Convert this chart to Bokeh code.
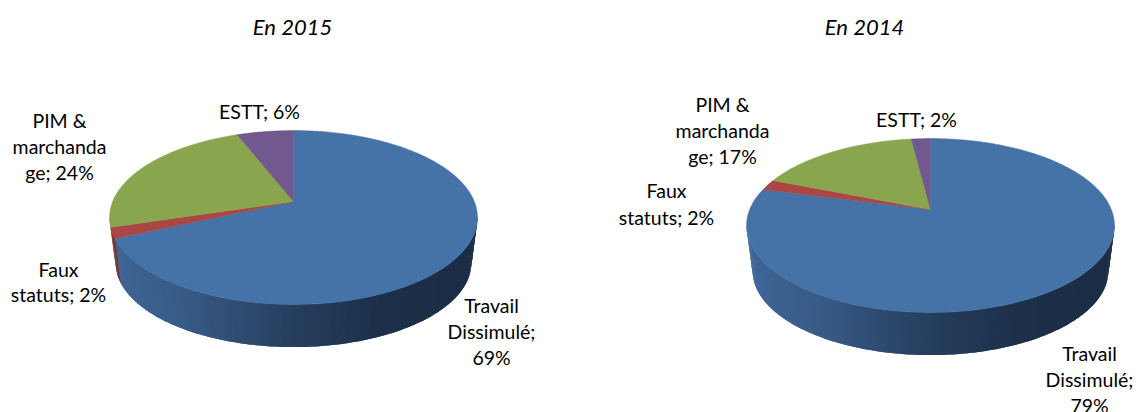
import numpy as np
from bokeh.plotting import figure
from bokeh.models import Range1d
from bokeh.core.properties import value
from bokeh.embed import file_html
from bokeh.resources import INLINE

# --- data -------------------------------------------------------------
categories = ["Travail Dissimulé", "Faux statuts", "PIM & marchandage", "ESTT"]
values_2015 = [69, 2, 24, 6]
values_2014 = [79, 2, 17, 2]
titles = ["En 2015", "En 2014"]

# --- style -------------------------------------------------------------
top_colors = ["#4572A7", "#AA4643", "#89A54E", "#71588F"]
wall_dark = ["#1f3450", "#7a302e", "#5f7536", "#4e3d64"]
FONT = "Lato"
SIZE = "19.5px"
TITLE_SIZE = "22px"

# --- layout: the perspective pie's projection --------------------------
A, B, K = 180.8, 84.0, 0.184
DROP, SHRINK = 46.0, 0.967
centers = [(293.0, 201.0), (930.0, 209.0)]
title_pos = [(292, 26), (864, 26)]
label_layout = [
    [("PIM &", 59, 120), ("marchanda", 59, 146), ("ge; 24%", 59, 172),
     ("ESTT; 6%", 259, 111),
     ("Faux", 58, 269), ("statuts; 2%", 58, 294),
     ("Travail", 491, 305), ("Dissimulé;", 491, 331), ("69%", 491, 357)],
    [("PIM &", 722, 104), ("marchanda", 722, 130), ("ge; 17%", 722, 156),
     ("ESTT; 2%", 916, 119),
     ("Faux", 666, 190), ("statuts; 2%", 666, 217),
     ("Travail", 1089, 353), ("Dissimulé;", 1089, 379), ("79%", 1089, 405)],
]

shade_t = [-1.0, -0.5, 0.0, 0.4, 1.0]
shade_rgb = np.array([[0x41, 0x68, 0x9A], [0x37, 0x5A, 0x85], [0x26, 0x3E, 0x5E],
                      [0x1C, 0x30, 0x49], [0x1B, 0x2D, 0x44]], dtype=float)


def project(theta, cx, cy, scale=1.0, drop=0.0):
    u, v = np.sin(theta), np.cos(theta)
    w = 1 + K * v
    return cx + scale * A * u / w, cy + drop - scale * B * v / w


def shade(t):
    rgb = [np.interp(t, shade_t, shade_rgb[:, i]) for i in range(3)]
    return "#%02x%02x%02x" % tuple(int(round(c)) for c in rgb)


p = figure(width=1136, height=412, output_backend="svg", toolbar_location=None,
           x_range=Range1d(0, 1136), y_range=Range1d(412, 0), min_border=0,
           outline_line_color=None, background_fill_color="white")
p.axis.visible = False
p.grid.visible = False

for vals, (cx, cy) in zip([values_2015, values_2014], centers):
    total = sum(vals)
    edges = np.concatenate([[0.0], np.cumsum(vals)]) / total * 2 * np.pi

    # front wall: left to right, each strip overlapping the next one
    steps = np.radians(np.arange(259.0, 98.0, -1.0))
    xs, ys, cols = [], [], []
    for i in range(len(steps) - 2):
        a, b, c = steps[i], steps[i + 1], steps[i + 2]
        x0, y0 = project(np.array([a, b, c]), cx, cy)
        x1, y1 = project(np.array([c, b, a]), cx, cy, SHRINK, DROP)
        xs.append(list(x0) + list(x1))
        ys.append(list(y0) + list(y1))
        mid = (a + b) / 2
        idx = int(np.searchsorted(edges, mid) - 1)
        cols.append(shade(float(np.sin(mid))) if idx == 0 else wall_dark[idx])
    p.patches(xs, ys, fill_color=cols, line_color=None)

    # top face
    for i in range(len(vals)):
        th = np.linspace(edges[i], edges[i + 1], max(3, int(vals[i] * 4)))
        x, y = project(th, cx, cy)
        p.patch(np.r_[cx, x], np.r_[cy, y], fill_color=top_colors[i],
                line_color=top_colors[i], line_width=0.5)

for t, (tx, ty) in zip(titles, title_pos):
    p.text([tx], [ty], text=[t], text_font=value(FONT), text_font_size=TITLE_SIZE,
           text_font_style="italic", text_align="center", text_baseline="middle",
           text_color="#000000")

for layout in label_layout:
    p.text([l[1] for l in layout], [l[2] for l in layout], text=[l[0] for l in layout],
           text_font=value(FONT), text_font_size=SIZE, text_align="center",
           text_baseline="middle", text_color="#000000")

open("out.html", "w").write(file_html(p, INLINE))
